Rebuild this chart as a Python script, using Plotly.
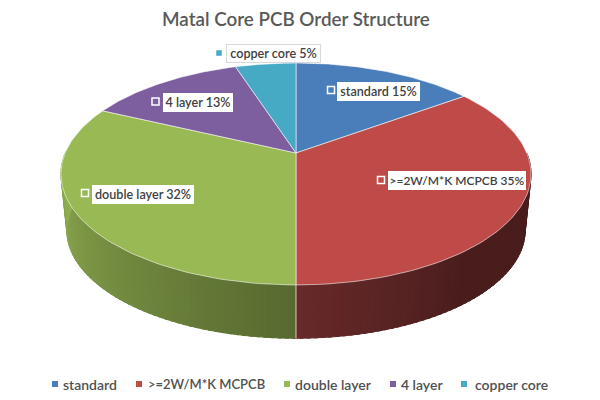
import numpy as np
import plotly.graph_objects as go

# data
categories = ['standard', '>=2W/M*K MCPCB', 'double layer', '4 layer', 'copper core']
values = [15, 35, 32, 13, 5]

top_colors = ['#4a7ebb', '#be4b48', '#98b954', '#7d5fa0', '#46aac5']

# perspective of the disc, in page pixels
CX, CY, A, B, K = 296, 153, 230.8, 107, 0.189
CY2, A2, B2 = 210, 225, 104
PAGE_MARGIN = 8  # the page body keeps its default margin


def project(theta, cy, a, b):
    u, v = np.sin(theta), np.cos(theta)
    return CX + a * u / (1 + K * v), cy - b * v / (1 + K * v)


def mix(c1, c2, t):
    rgb = [int(round(p + (q - p) * t)) for p, q in zip(c1, c2)]
    return f'rgb({rgb[0]},{rgb[1]},{rgb[2]})'


fig = go.Figure()

cum = np.cumsum([0] + values) / sum(values) * 2 * np.pi

# side wall, drawn as thin strips so it can carry a gradient
STRIPS = 120
for i in range(STRIPS):
    a0 = np.pi / 2 + np.pi * i / STRIPS
    a1 = np.pi / 2 + np.pi * (i + 1.5) / STRIPS
    th = np.linspace(a0, a1, 4)
    tx, ty = project(th, CY, A, B)
    bx, by = project(th[::-1], CY2, A2, B2)
    # distance from the front of the disc, 0 to 1
    front = abs(th.mean() - np.pi) / (np.pi / 2)
    if th.mean() < np.pi:
        color = mix((104, 41, 41), (74, 29, 29), min(front * 2.4, 1))
    else:
        color = mix((86, 105, 47), (146, 176, 82), min(front, 1))
    fig.add_trace(go.Scatter(
        x=np.r_[tx, bx], y=np.r_[ty, by], mode='lines', fill='toself',
        fillcolor=color, line=dict(color=color, width=1),
        hoverinfo='skip', showlegend=False
    ))

# seam on the front of the wall
sx, sy = project(np.array([np.pi]), CY, A, B)
ex, ey = project(np.array([np.pi]), CY2, A2, B2)
fig.add_trace(go.Scatter(
    x=[sx[0], ex[0]], y=[sy[0], ey[0]], mode='lines',
    line=dict(color='rgba(255,235,225,0.8)', width=1),
    hoverinfo='skip', showlegend=False
))

# top of the disc
for i, name in enumerate(categories):
    th = np.linspace(cum[i], cum[i + 1], 80)
    x, y = project(th, CY, A, B)
    fig.add_trace(go.Scatter(
        x=np.r_[CX, x, CX], y=np.r_[CY, y, CY], mode='lines', fill='toself',
        fillcolor=top_colors[i], line=dict(color='rgba(255,255,255,0.55)', width=1),
        name=name, showlegend=False
    ))

# data labels: key square + white box
label_x = [337, 388, 92, 163, 226]
label_w = [79, 134, 98, 66, 91]
label_y = [91, 180, 194, 102, 53]
label_size = [12.6, 12, 12.6, 12.6, 12.6]
key_x = [331, 381, 85, 155.5, 219]
key_y = [90, 180, 193, 101.5, 53]

fig.add_trace(go.Scatter(
    x=key_x, y=key_y, mode='markers',
    marker=dict(symbol='square', size=7, color=top_colors,
                line=dict(color='white', width=1.5)),
    hoverinfo='skip', showlegend=False
))

for i, name in enumerate(categories):
    last = i == len(categories) - 1
    fig.add_annotation(
        x=label_x[i], y=label_y[i], xanchor='left', yanchor='middle',
        text=f'{name} {values[i]}%', showarrow=False, width=label_w[i],
        align='center', bgcolor='white', borderpad=1,
        bordercolor='#d9d9d9' if last else 'white', borderwidth=1,
        font=dict(family='Lato', size=label_size[i], color='#404040', weight=600)
    )

# legend, laid out by hand to keep the original spacing
legend_key_x = [55, 139, 287, 393, 464]
legend_text_x = [62, 147, 294, 400, 474]
fig.add_trace(go.Scatter(
    x=legend_key_x, y=[384] * len(legend_key_x), mode='markers',
    marker=dict(symbol='square', size=6, color=top_colors),
    hoverinfo='skip', showlegend=False
))
legend_size = [14, 13, 14, 14, 14]
for i, name in enumerate(categories):
    fig.add_annotation(
        x=legend_text_x[i] - 1, y=384, xanchor='left', yanchor='middle',
        text=name, showarrow=False,
        font=dict(family='Lato', size=legend_size[i], color='#505050', weight=600)
    )

fig.add_annotation(
    x=296, y=18, xanchor='center', yanchor='middle',
    text='Matal Core PCB Order Structure', showarrow=False,
    font=dict(family='Lato', size=18.8, color='#595959', weight=600)
)

fig.update_layout(
    width=600 - PAGE_MARGIN, height=400 - PAGE_MARGIN,
    margin=dict(l=0, r=0, t=0, b=0),
    paper_bgcolor='white', plot_bgcolor='white',
    xaxis=dict(range=[PAGE_MARGIN, 600], visible=False, fixedrange=True),
    yaxis=dict(range=[400, PAGE_MARGIN], visible=False, fixedrange=True),
    showlegend=False
)

fig.write_html("out.html")
